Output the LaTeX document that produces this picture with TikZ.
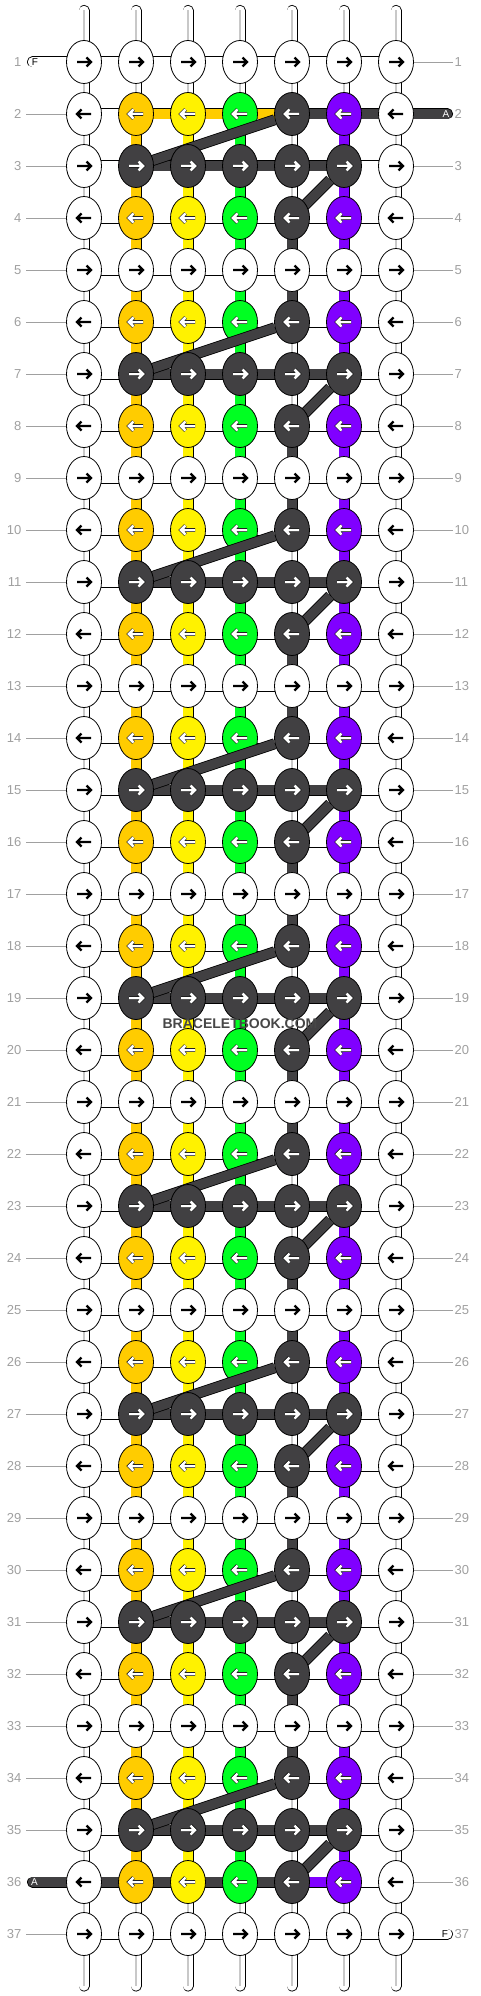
\documentclass[tikz,border=0pt]{standalone}
\usepackage{fontspec}
\setmainfont{Liberation Sans}
\usetikzlibrary{shapes.geometric}

\definecolor{knotdark}{HTML}{414042}
\definecolor{knotorange}{HTML}{FFCC00}
\definecolor{knotyellow}{HTML}{FFF200}
\definecolor{knotgreen}{HTML}{00FF22}
\definecolor{knotpurple}{HTML}{8000FF}
\definecolor{rowgray}{HTML}{A0A0A0}
\definecolor{strandgray}{HTML}{C8C8C8}

\pgfdeclarelayer{threads}
\pgfsetlayers{threads,main}

\tikzset{
  pics/arrowdark/.style={code={
    \draw[black,line width=2.4pt] (-7,0) -- (7,0) (2.5,-4.5) -- (7,0) -- (2.5,4.5);}},
  pics/arrowlight/.style={code={
    \draw[black,line width=3.7pt] (-7,0) -- (7,0) (2.5,-4.5) -- (7,0) -- (2.5,4.5);
    \draw[white,line width=2.5pt] (-7,0) -- (7,0) (2.5,-4.5) -- (7,0) -- (2.5,4.5);}}
}
\def\kwhite{white}

\begin{document}
\begin{tikzpicture}[x=1pt,y=-1pt,
    knot/.style={draw,ellipse,line width=0.8pt,minimum width=35pt,minimum height=43pt,inner sep=0pt},
    thread/.style={draw=black,line width=0.8pt,double=#1,double distance=9.4pt},
    strandline/.style={strandgray,line width=1.2pt},
    rowline/.style={rowgray,line width=0.8pt},
    rowlbl/.style={text=rowgray,font=\fontsize{13}{13}\selectfont,inner sep=0pt},
    stublbl/.style={font=\fontsize{10}{10}\selectfont,inner sep=0pt}]
  \useasboundingbox (0,0) rectangle (480,1996);

  % grid points
  \foreach \r in {1,...,37}
    \foreach \c in {1,...,7}
      \coordinate (p-\r-\c) at ({84+52*(\c-1)},{62+52*(\r-1)});
  \foreach \c in {1,...,7}{
    \coordinate (top-\c) at ({84+52*(\c-1)},10.5);
    \coordinate (bot-\c) at ({84+52*(\c-1)},1986);
  }

  % row numbers
  \foreach \r in {1,...,37}{
    \coordinate (ll-\r) at (26,{62+52*(\r-1)});
    \coordinate (rl-\r) at (453,{62+52*(\r-1)});
    \node[rowlbl,anchor=east] (lnum-\r) at (21.5,{62+52*(\r-1)}) {\r};
    \node[rowlbl,anchor=west] (rnum-\r) at (454.5,{62+52*(\r-1)}) {\r};
  }
  \coordinate (endF1) at (32.5,62);
  \coordinate (endA2) at (447.5,114);
  \coordinate (endA36) at (32.5,1882);
  \coordinate (endF37) at (447.5,1934);

  \begin{pgfonlayer}{threads}
    \fill[white] (0,0) rectangle (480,1996);
    \foreach \r in {3,...,35}
      \draw[rowline] (ll-\r) -- (p-\r-1) (p-\r-7) -- (rl-\r);
    \draw[rowline] (ll-2) -- (p-2-1) (p-1-7) -- (rl-1);
    \draw[rowline] (ll-37) -- (p-37-1) (p-36-7) -- (rl-36);
    % top and bottom ends
    \foreach \c in {1,...,7}{
      \draw[thread=white,line cap=round] (top-\c) -- (p-1-\c);
      \draw[strandline] (top-\c) -- (p-1-\c);
      \draw[thread=white,line cap=round] (p-37-\c) -- (bot-\c);
      \draw[strandline] (p-37-\c) -- (bot-\c);
    }
    % loose ends
    \draw[thread=white,line cap=round] (endF1) -- (p-1-1);
    \draw[thread=knotdark,line cap=round] (p-2-7) -- (endA2);
    \draw[thread=knotdark,line cap=round] (endA36) -- (p-36-1);
    \draw[thread=white,line cap=round] (p-37-7) -- (endF37);
    % threads between knots
    \foreach \r in {1,...,37}{
      \pgfmathtruncatemacro\m{mod(\r,4)}
      \pgfmathtruncatemacro\rp{\r-1}
      \foreach \c/\hd/\htop/\hbot/\cv in {
          1/white/white/knotdark/white,
          2/knotdark/knotorange/knotdark/knotorange,
          3/knotdark/knotorange/knotdark/knotyellow,
          4/knotdark/knotorange/knotdark/knotgreen,
          5/knotdark/knotdark/knotpurple/white,
          6/white/knotdark/white/knotpurple,
          7/white/white/white/white}{
        \edef\hcol{white}
        \ifnum\m=3 \edef\hcol{\hd}\fi
        \ifnum\r=2 \edef\hcol{\htop}\fi
        \ifnum\r=36 \edef\hcol{\hbot}\fi
        \edef\vcol{white}
        \ifnum\r>2 \ifnum\r<37 \edef\vcol{\cv}\fi\fi
        \ifnum\c=5 \ifnum\r>4 \ifnum\r<35 \ifnum\m>0 \ifnum\m<3
          \edef\vcol{knotdark}\fi\fi\fi\fi\fi
        \ifnum\r>1
          \draw[thread=\vcol] (p-\rp-\c) -- (p-\r-\c);
          \ifx\vcol\kwhite \draw[strandline] (p-\rp-\c) -- (p-\r-\c); \fi
        \fi
        \ifnum\c<7
          \pgfmathtruncatemacro\cn{\c+1}
          \draw[thread=\hcol] (p-\r-\c) -- (p-\r-\cn);
        \fi
      }
    }
  \end{pgfonlayer}
  \node[stublbl] (txtF1) at (35,62.5) {F};
  \node[stublbl,text=white] (txtA2) at (446,114.5) {A};
  \node[stublbl,text=white] (txtA36) at (34.5,1882.5) {A};
  \node[stublbl] (txtF37) at (445,1934.5) {F};

  % rows of knots
  \foreach \r in {1,...,37}{
    \pgfmathtruncatemacro\m{mod(\r,4)}
    \pgfmathtruncatemacro\rp{\r-1}
    % crossing threads
    \ifnum\m=3 \draw[thread=knotdark] (k-\rp-5) -- (p-\r-2); \fi
    \ifnum\m=0 \draw[thread=knotdark] (k-\rp-6) -- (p-\r-5); \fi
    \foreach \c/\cw/\cc/\cd in {1/white/white/white,2/white/knotorange/knotdark,
        3/white/knotyellow/knotdark,4/white/knotgreen/knotdark,5/white/knotdark/knotdark,
        6/white/knotpurple/knotdark,7/white/white/white}{
      \ifcase\m \edef\kcol{\cc}\or \edef\kcol{\cw}\or \edef\kcol{\cc}\or \edef\kcol{\cd}\fi
      \ifodd\r \def\kdir{1}\else \def\kdir{-1}\fi
      \node[knot,fill=\kcol] (k-\r-\c) at (p-\r-\c) {};
      \ifx\kcol\kwhite
        \pic[xscale=\kdir] at (p-\r-\c) {arrowdark};
      \else
        \pic[xscale=\kdir] at (p-\r-\c) {arrowlight};
      \fi
    }
  }

  \node[font=\bfseries\fontsize{14}{14}\selectfont,text=black!72,inner sep=0pt] (mark) at (240,1023.5) {BRACELETBOOK.COM};
\end{tikzpicture}
\end{document}
